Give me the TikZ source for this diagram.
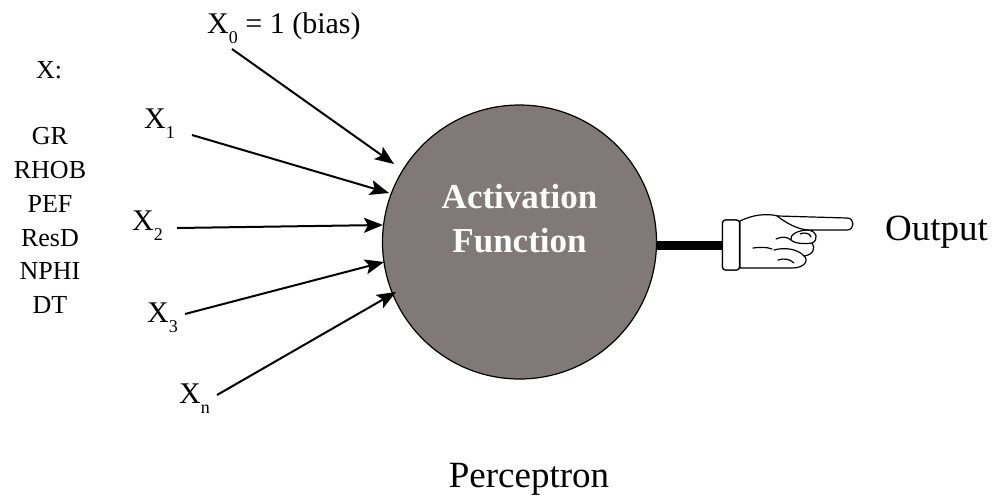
\documentclass[tikz,border=0pt]{standalone}
\usepackage{fontspec}
\setmainfont{Liberation Serif}
\usetikzlibrary{arrows.meta}
\definecolor{actgray}{RGB}{128,121,119}
% input symbol with a lowered subscript
\newcommand{\xsub}[1]{X\raisebox{-10pt}{\fontsize{18}{18}\selectfont #1}}

\begin{document}
\begin{tikzpicture}[x=1pt,y=-1pt,
  lbl/.style={inner sep=0pt, anchor=base west, font=\fontsize{30}{30}\selectfont},
  feat/.style={inner sep=0pt, anchor=base, font=\fontsize{26}{26}\selectfont},
  inarrow/.style={line width=2pt, -{Stealth[length=19pt,width=15pt,inset=4pt]}},
  handline/.style={line width=1.2pt, line join=round, line cap=round},
  acttext/.style={inner sep=0pt, anchor=base, text=white, font=\bfseries\fontsize{35}{35}\selectfont}
]
\useasboundingbox (0,0) rectangle (992,499);

% feature list
\node[feat] (xhead) at (49,78) {X:};
\foreach \name/\txt/\yy in {f1/GR/144, f2/RHOB/178, f3/PEF/212, f4/ResD/246, f5/NPHI/279, f6/DT/313}
  \node[feat] (\name) at (50,\yy) {\txt};

% neuron
\node[circle, draw, line width=1.2pt, fill=actgray, minimum size=274pt, inner sep=0pt] (act) at (519.5,242) {};
\node[acttext] (actA) at (519.5,208) {Activation};
\node[acttext] (actB) at (519.5,252) {Function};

% inputs
\node[lbl] (x0) at (207,33) {\xsub{0} = 1 (bias)};
\node[lbl] (x1) at (144,128) {\xsub{1}};
\node[lbl] (x2) at (132,230) {\xsub{2}};
\node[lbl] (x3) at (147,322) {\xsub{3}};
\node[lbl] (xn) at (179,403) {\xsub{n}};

\coordinate (s0) at (232,49);  \coordinate (t0) at (394,164);
\coordinate (s1) at (192,135); \coordinate (t1) at (389,193);
\coordinate (s2) at (177,228); \coordinate (t2) at (383,225);
\coordinate (s3) at (185,314); \coordinate (t3) at (384,262);
\coordinate (sn) at (217,395); \coordinate (tn) at (396,292);

\draw[inarrow] (s0) -- (t0);
\draw[inarrow] (s1) -- (t1);
\draw[inarrow] (s2) -- (t2);
\draw[inarrow] (s3) -- (t3);
\draw[inarrow] (sn) -- (tn);

% output: bar and pointing hand
\node[draw, fill=white, line width=1.2pt, rounded corners=3pt, minimum width=17pt, minimum height=50pt, inner sep=0pt] (cuff) at (731,245) {};
\draw[line width=9pt] (act.east |- cuff.west) -- (cuff.west);
\node[draw, fill=white, line width=1.2pt, rounded corners=3pt, minimum width=17pt, minimum height=50pt, inner sep=0pt] at (cuff) {};

\draw[handline, fill=white]
  (740,221) .. controls (752,215) and (766,213) .. (778,216)
  -- (847,218) .. controls (855,218) and (855,230) .. (847,230)
  -- (808,230) .. controls (817,231) and (819,240) .. (812,243)
  .. controls (816,248) and (813,255) .. (804,256)
  .. controls (809,260) and (805,268) .. (792,268)
  -- (740,268) -- cycle;
\draw[handline] (777,216) .. controls (785,222) and (796,229) .. (808,230);
\draw[handline] (808,230) .. controls (798,230) and (789,235) .. (791,240)
  .. controls (795,244) and (806,244) .. (812,243);
\draw[handline] (800,234) .. controls (804,232) and (810,233) .. (811,237);
\draw[handline] (776,239) .. controls (782,236) and (788,237) .. (791,240);
\draw[handline] (774,250) .. controls (785,247) and (798,249) .. (804,256);
\draw[handline] (778,260) .. controls (784,258) and (790,259) .. (794,263);
\draw[handline] (753,248) .. controls (760,247) and (767,247) .. (772,249);

\node[inner sep=0pt, anchor=base west, font=\fontsize{37}{37}\selectfont] (out) at (885,240) {Output};

% caption
\node[inner sep=0pt, anchor=base, font=\fontsize{37}{37}\selectfont] (title) at (529,487) {Perceptron};
\end{tikzpicture}
\end{document}
